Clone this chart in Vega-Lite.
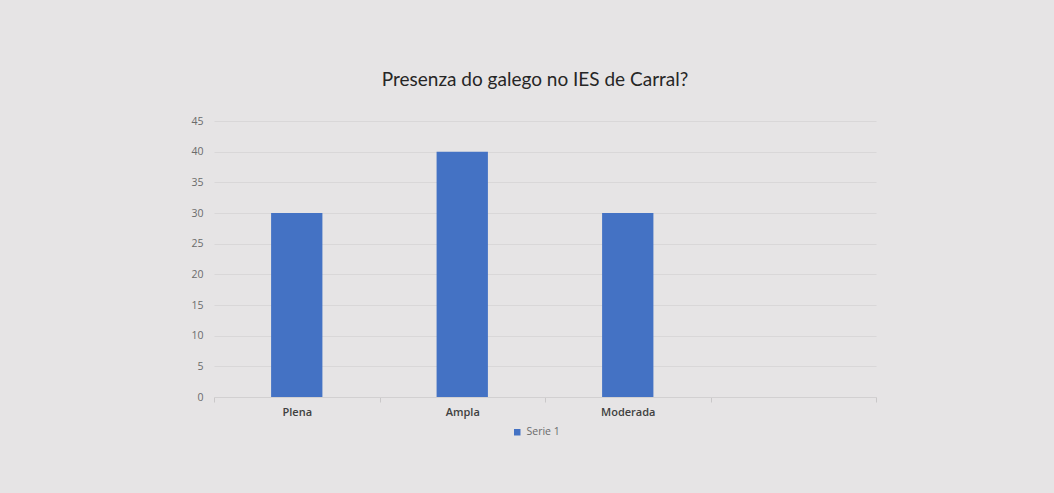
{
  "$schema": "https://vega.github.io/schema/vega-lite/v6.json",
  "width": 662,
  "height": 276,
  "autosize": {"type": "none"},
  "padding": {"left": 214, "top": 121, "right": 178, "bottom": 96},
  "background": "#e6e4e5",
  "config": {"view": {"stroke": null}},
  "title": {
    "text": "Presenza do galego no IES de Carral?",
    "font": "Lato",
    "fontSize": 19,
    "fontWeight": "normal",
    "color": "#262626",
    "anchor": "middle",
    "dx": -10,
    "offset": 26
  },
  "data": {
    "values": [
      {"categoria": "Plena", "valor": 30, "serie": "Serie 1"},
      {"categoria": "Ampla", "valor": 40, "serie": "Serie 1"},
      {"categoria": "Moderada", "valor": 30, "serie": "Serie 1"}
    ]
  },
  "mark": {"type": "bar", "width": {"band": 0.31}},
  "encoding": {
    "x": {
      "field": "categoria",
      "type": "nominal",
      "sort": null,
      "scale": {"domain": ["Plena", "Ampla", "Moderada", " "], "paddingInner": 0, "paddingOuter": 0},
      "axis": {
        "title": null,
        "labelAngle": 0,
        "labelFont": "Open Sans",
        "labelFontSize": 11,
        "labelFontWeight": 600,
        "labelColor": "#404040",
        "labelPadding": 4,
        "domainColor": "#d2d0d1",
        "tickColor": "#cac8c9",
        "tickBand": "extent",
        "tickSize": 5,
        "grid": false
      }
    },
    "y": {
      "field": "valor",
      "type": "quantitative",
      "scale": {"domain": [0, 45], "nice": false},
      "axis": {
        "title": null,
        "values": [0, 5, 10, 15, 20, 25, 30, 35, 40, 45],
        "labelFont": "Open Sans",
        "labelFontSize": 10.5,
        "labelColor": "#6b6b6b",
        "labelPadding": 11,
        "domain": false,
        "ticks": false,
        "gridColor": "#d9d7d8",
        "gridWidth": 1
      }
    },
    "color": {
      "field": "serie",
      "type": "nominal",
      "scale": {"range": ["#4472c4"]},
      "legend": {
        "title": null,
        "orient": "none",
        "legendX": 298,
        "legendY": 306,
        "symbolType": "square",
        "symbolSize": 42,
        "labelFont": "Open Sans",
        "labelFontSize": 10.5,
        "labelColor": "#6b6b6b",
        "labelOffset": 4
      }
    }
  }
}
